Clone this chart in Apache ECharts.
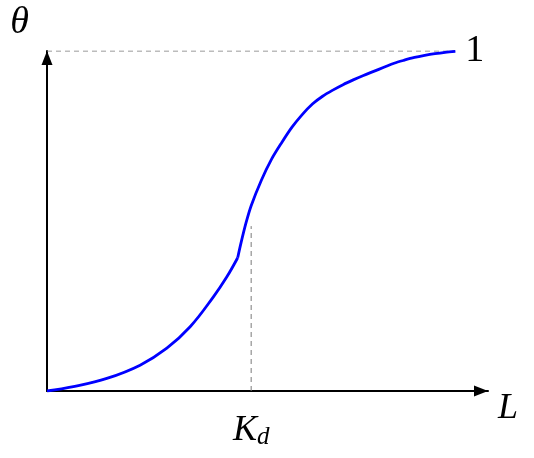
<!DOCTYPE html>
<html>
<head>
<meta charset="utf-8">
<script src="https://cdn.jsdelivr.net/npm/echarts@6/dist/echarts.min.js"></script>
<style>html,body{margin:0;padding:0;background:#fff}#c{width:534px;height:458px}</style>
</head>
<body>
<div id="c"></div>
<script>
// Binding curve theta(L) (L in units where Kd = 1)
var lowerL     = [0, 0.129, 0.293, 0.456, 0.587, 0.701, 0.815, 0.881, 0.934];
var lowerTheta = [0, 0.013, 0.037, 0.076, 0.126, 0.189, 0.277, 0.336, 0.392];
var upperL     = [0.934, 0.95, 0.975, 1.00, 1.05, 1.10, 1.15, 1.20, 1.25, 1.30, 1.35, 1.40, 1.45, 1.50, 1.55, 1.60, 1.65, 1.70, 1.75, 1.80, 1.85, 1.90, 1.95, 2.00];
var upperTheta = [0.392, 0.435, 0.495, 0.545, 0.620, 0.682, 0.731, 0.776, 0.813, 0.844, 0.867, 0.885, 0.901, 0.915, 0.928, 0.940, 0.952, 0.964, 0.973, 0.981, 0.987, 0.992, 0.996, 0.999];
// Guide lines
var kdL = [1, 1];
var kdTheta = [0, 0.485];
var topL = [0, 2];
var topTheta = [1, 1];
var xMax = 2.16, yMax = 1;
var kdValue = 1;

function pairs(a, b) { return a.map(function (v, i) { return [v, b[i]]; }); }

var serif = 'Liberation Serif';
var chart = echarts.init(document.getElementById('c'), null, {renderer: 'canvas'});
chart.setOption({
  animation: false,
  grid: {left: 47, right: 46, top: 51, bottom: 67, containLabel: false, outerBoundsMode: 'none'},
  xAxis: {
    type: 'value', min: 0, max: xMax,
    splitLine: {show: false},
    axisTick: {show: false},
    axisLine: {lineStyle: {color: '#000', width: 2}, symbol: ['none', 'triangle'], symbolSize: [11, 14], symbolOffset: [0, -7]},
    axisLabel: {
      customValues: [kdValue], margin: 20,
      formatter: function () { return '{k|K}{d|d}'; },
      rich: {
        k: {fontFamily: serif, fontStyle: 'italic', fontSize: 36, color: '#000'},
        d: {fontFamily: serif, fontStyle: 'italic', fontSize: 25, color: '#000', padding: [14, 0, 0, 0]}
      }
    },
    name: 'L', nameLocation: 'end', nameGap: 10,
    nameTextStyle: {fontFamily: serif, fontStyle: 'italic', fontSize: 36, color: '#000', verticalAlign: 'top', lineHeight: 36}
  },
  yAxis: {
    type: 'value', min: 0, max: yMax,
    splitLine: {show: false},
    axisTick: {show: false},
    axisLabel: {show: false},
    axisLine: {lineStyle: {color: '#000', width: 2}, symbol: ['none', 'triangle'], symbolSize: [11, 14], symbolOffset: [0, -7]},
    name: '\u03B8', nameLocation: 'end', nameGap: 9,
    nameTextStyle: {fontFamily: serif, fontStyle: 'italic', fontSize: 38, color: '#000', align: 'right', padding: [0, 18, 0, 0]}
  },
  series: [
    {
      type: 'line', data: pairs(kdL, kdTheta), symbol: 'none', silent: true,
      lineStyle: {color: '#7a7a7a', width: 1, type: [5, 4]}
    },
    {
      type: 'line', data: pairs(topL, topTheta), symbol: 'none', silent: true,
      lineStyle: {color: '#7a7a7a', width: 1, type: [5, 4]},
      endLabel: {show: true, formatter: '1', distance: 10, fontFamily: serif, fontSize: 38, color: '#000'}
    },
    {
      type: 'line', data: pairs(lowerL, lowerTheta), symbol: 'none', smooth: 0.4, silent: true,
      lineStyle: {color: '#0000ff', width: 2.8}
    },
    {
      type: 'line', data: pairs(upperL, upperTheta), symbol: 'none', smooth: 0.3, silent: true,
      lineStyle: {color: '#0000ff', width: 2.8}
    }
  ]
});
</script>
</body>
</html>
